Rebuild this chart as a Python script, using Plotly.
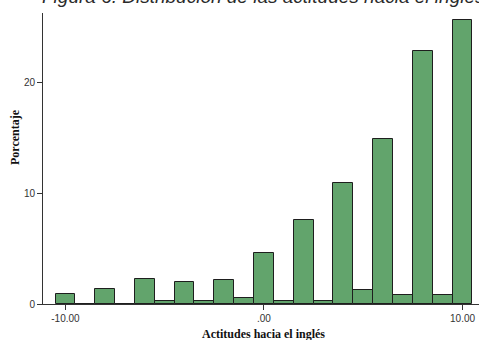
import plotly.graph_objects as go

# Attitude scores (bin centres) and percentage of respondents per bin
scores = [-10, -9, -8, -7, -6, -5, -4, -3, -2, -1, 0, 1, 2, 3, 4, 5, 6, 7, 8, 9, 10]
percent = [0.88, 0.0, 1.36, 0.0, 2.29, 0.27, 2.02, 0.27, 2.20, 0.57, 4.59,
           0.27, 7.60, 0.27, 10.92, 1.27, 14.90, 0.84, 22.83, 0.84, 25.70]

x_tickvals = [-10, 0, 10]
x_ticklabels = ["-10.00", ".00", "10.00"]
y_tickvals = [0, 10, 20]

title_text = "Figura 6. Distribución de las actitudes hacia el inglés"
x_title = "Actitudes hacia el inglés"
y_title = "Porcentaje"

fig = go.Figure(
    go.Bar(
        x=scores,
        y=percent,
        width=1.0,
        marker=dict(color="#62A46C", line=dict(color="#1e1e1e", width=1)),
        hoverinfo="x+y",
    )
)

axis_common = dict(
    showline=True,
    linecolor="#333333",
    linewidth=1,
    ticks="outside",
    ticklen=5,
    tickcolor="#333333",
    showgrid=False,
    zeroline=False,
    tickfont=dict(family="Liberation Sans, Arial, sans-serif", size=10, color="#333333"),
)

fig.update_layout(
    width=479,
    height=340,
    margin=dict(l=43, r=0, t=13, b=36),
    paper_bgcolor="white",
    plot_bgcolor="white",
    showlegend=False,
    bargap=0,
    xaxis=dict(range=[-11.13, 10.83], tickvals=x_tickvals, ticktext=x_ticklabels, **axis_common),
    yaxis=dict(range=[0, 26.3], tickvals=y_tickvals, **axis_common),
    annotations=[
        dict(
            text="<i>" + title_text + "</i>",
            xref="paper", yref="paper",
            x=-0.007, y=1.058,
            xanchor="left", yanchor="middle",
            showarrow=False,
            font=dict(family="Liberation Sans, Arial, sans-serif", size=19, color="#2a2a2a"),
        ),
        dict(
            text="<b>" + x_title + "</b>",
            xref="paper", yref="paper",
            x=(263 - 43) / 436, y=-0.103,
            xanchor="center", yanchor="middle",
            showarrow=False,
            font=dict(family="Liberation Serif, Times New Roman, serif", size=12, color="#111111"),
        ),
        dict(
            text="<b>" + y_title + "</b>",
            xref="paper", yref="paper",
            x=(15 - 43) / 436, y=(304 - 137) / 291,
            xanchor="center", yanchor="middle",
            textangle=-90,
            showarrow=False,
            font=dict(family="Liberation Serif, Times New Roman, serif", size=12, color="#111111"),
        ),
    ],
)

fig.write_html("out.html")
